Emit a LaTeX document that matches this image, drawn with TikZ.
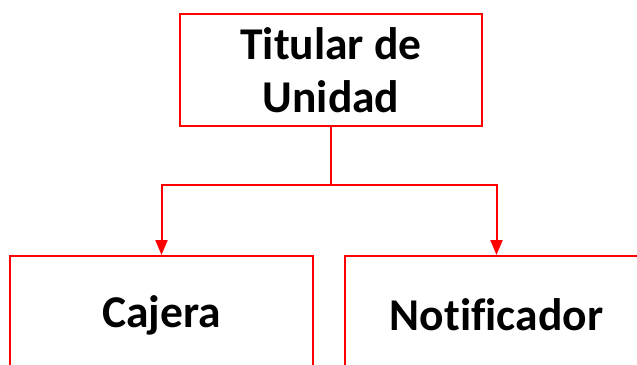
\documentclass[tikz,border=0pt]{standalone}
\usepackage{fontspec}
\setmainfont[Ligatures=CommonOff]{Carlito}
\usetikzlibrary{arrows.meta}
\tikzset{
  box/.style={draw=red, line width=2pt, minimum width=302pt, minimum height=112pt,
    inner sep=0pt, align=center, font=\bfseries\fontsize{45.5}{53}\selectfont},
  lowbox/.style={box, minimum width=303pt, minimum height=118pt},
  conn/.style={draw=red, line width=2pt, -{Triangle[width=12pt,length=15pt]}}
}
\begin{document}
\begin{tikzpicture}[x=1pt,y=-1pt]
\useasboundingbox (0,0) rectangle (637,364);
\node[box] (top) at (331,70) {Titular de\\Unidad};
\node[lowbox] (caj) at (161.5,315) {Cajera};
\node[lowbox] (not) at (496.5,315) {Notificador};
\coordinate (j) at (331,185);
\draw[conn] (top.south) -- (j) -| (caj.north);
\draw[conn] (j) -| (not.north);
\end{tikzpicture}
\end{document}
